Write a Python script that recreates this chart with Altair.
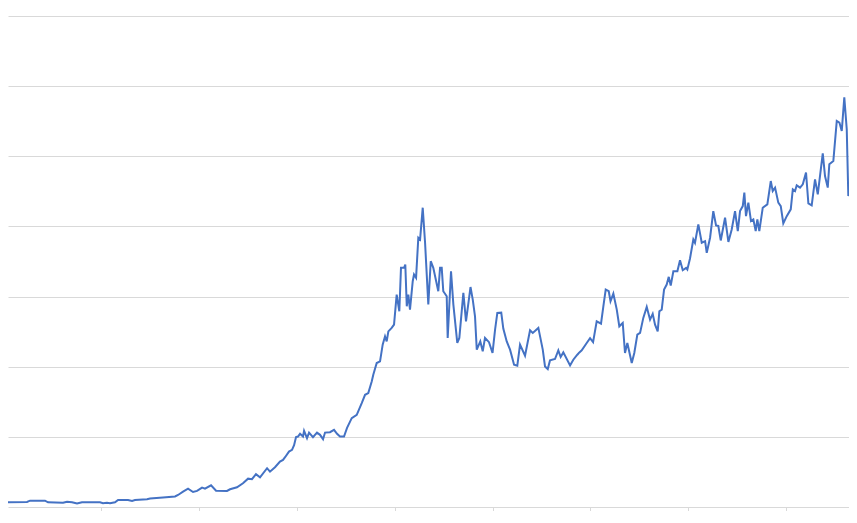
import altair as alt
import pandas as pd

x_vals = [0, 2.45, 2.76, 4.29, 4.6, 6.13, 6.54, 7.05, 7.56, 8.07, 9.91, 10.21, 10.62, 10.93, 11.44, 11.75,
          12.77, 13.18, 13.48, 14.71, 15.02, 16.34, 17.57, 17.88, 18.39, 18.9, 19.41, 19.82, 20.33, 20.63,
          21.25, 21.76, 22.88, 23.19, 23.9, 24.51, 25.03, 25.43, 25.84, 26.25, 26.97, 27.27, 27.78, 28.29,
          28.6, 28.81, 29.21, 29.52, 29.73, 29.93, 30.13, 30.34, 30.64, 30.75, 31.05, 31.26, 31.66, 32.07,
          32.38, 32.69, 32.89, 33.4, 33.81, 34.12, 34.42, 34.83, 35.14, 35.62, 36.13, 36.64, 36.98, 37.31,
          37.66, 37.82, 38.17, 38.51, 38.78, 39.02, 39.19, 39.36, 39.7, 39.94, 40.21, 40.48, 40.65, 40.96,
          41.09, 41.24, 41.4, 41.57, 41.85, 41.98, 42.19, 42.42, 42.6, 42.87, 43.11, 43.44, 43.69, 43.95,
          44.46, 44.64, 44.81, 44.97, 45.32, 45.42, 45.76, 46.0, 46.4, 46.61, 47.02, 47.29, 47.75, 47.98,
          48.21, 48.39, 48.75, 49.0, 49.23, 49.64, 50.0, 50.26, 50.49, 50.89, 51.1, 51.45, 51.79, 52.2,
          52.53, 52.81, 53.32, 53.83, 54.11, 54.68, 55.13, 55.36, 55.64, 55.87, 56.38, 56.72, 56.96, 57.23,
          57.92, 58.25, 58.66, 58.87, 59.11, 59.62, 59.96, 60.27, 60.64, 61.08, 61.32, 61.56, 61.87, 62.05,
          62.34, 62.69, 62.95, 63.3, 63.53, 63.77, 64.22, 64.48, 64.79, 65.07, 65.4, 65.75, 66.09, 66.36,
          66.6, 66.87, 67.04, 67.28, 67.52, 67.79, 68.0, 68.2, 68.47, 68.88, 69.15, 69.43, 69.77, 69.9,
          70.17, 70.51, 70.68, 71.02, 71.37, 71.71, 71.88, 72.22, 72.55, 72.83, 73.06, 73.31, 73.75, 74.09,
          74.43, 74.77, 75.05, 75.28, 75.56, 75.72, 75.89, 76.13, 76.4, 76.64, 76.88, 77.05, 77.25, 77.6,
          78.07, 78.42, 78.62, 78.86, 79.19, 79.44, 79.7, 80.05, 80.46, 80.67, 80.9, 81.07, 81.41, 81.69,
          82.02, 82.26, 82.6, 82.94, 83.22, 83.73, 83.96, 84.24, 84.4, 84.81, 85.16, 85.43, 85.67, 85.93,
          86.18, 86.34, 86.52, 86.79, 86.96, 87.2]

y_vals = [0.67, 0.71, 0.9, 0.9, 0.67, 0.61, 0.76, 0.67, 0.5, 0.67, 0.67, 0.53, 0.61, 0.53, 0.67, 1.0,
          1.0, 0.86, 1.0, 1.1, 1.21, 1.36, 1.5, 1.71, 2.19, 2.61, 2.14, 2.29, 2.76, 2.61,
          3.1, 2.33, 2.29, 2.53, 2.81, 3.39, 4.04, 3.96, 4.67, 4.24, 5.53, 5.04, 5.67, 6.47,
          6.71, 7.1, 7.9, 8.14, 8.81, 9.96, 10.04, 10.43, 10.04, 10.86, 9.81, 10.61, 9.96, 10.61,
          10.29, 9.67, 10.61, 10.67, 11.0, 10.43, 10.04, 10.04, 11.29, 12.67, 13.14, 14.81, 16.0, 16.24,
          17.9, 18.86, 20.53, 20.76, 23.14, 24.33, 23.61, 25.04, 25.53, 26.0, 30.29, 27.9, 34.1, 34.1,
          34.57, 28.61, 30.29, 28.14, 32.19, 33.14, 32.67, 38.39, 38.14, 42.67, 37.67, 28.86, 35.04, 34.1,
          30.76, 34.1, 34.1, 30.76, 30.04, 24.1, 33.61, 28.86, 23.39, 24.1, 30.53, 26.47, 31.36, 29.57,
          27.19, 22.43, 23.61, 22.19, 24.1, 23.5, 21.96, 25.29, 27.67, 27.71, 25.43, 23.61, 22.43, 20.29,
          20.14, 23.14, 21.57, 25.19, 24.81, 25.53, 22.43, 20.04, 19.67, 20.9, 21.1, 22.33, 21.39, 22.04,
          20.19, 21.0, 21.71, 22.04, 22.33, 23.39, 24.07, 23.5, 26.47, 26.14, 28.61, 31.0, 30.76, 29.33,
          30.43, 28.14, 25.76, 26.24, 21.96, 23.39, 20.53, 21.96, 24.57, 24.81, 26.96, 28.53, 26.71, 27.53,
          26.0, 25.04, 27.9, 28.14, 31.0, 31.71, 32.81, 31.57, 33.61, 33.61, 35.19, 33.76, 34.1, 33.86,
          35.43, 38.14, 37.67, 40.29, 37.67, 37.9, 36.24, 38.39, 42.19, 40.14, 40.07, 38.0, 41.24, 37.79,
          39.57, 42.19, 39.33, 42.19, 42.9, 44.81, 41.47, 43.39, 40.76, 41.0, 39.33, 41.0, 39.33, 42.67,
          43.14, 46.47, 45.04, 45.53, 43.39, 42.9, 40.43, 41.47, 42.43, 45.29, 45.04, 45.86, 45.53, 46.0,
          47.67, 43.29, 43.0, 46.71, 44.57, 50.43, 47.19, 45.53, 48.86, 49.33, 55.04, 54.81, 53.61, 58.39,
          53.86, 44.33, 46.47, 44.81, 47.9, 49.57]

df = pd.DataFrame({"x": x_vals, "y": y_vals})

x_ticks = [10, 20, 30, 40, 50, 60, 70, 80]
y_grid = [10, 20, 30, 40, 50, 60, 70]

chart = alt.Chart(df).mark_line(color="#4472c4", strokeWidth=2, clip=True).encode(
    x=alt.X("x:Q", scale=alt.Scale(domain=[0.51, 86.41], nice=False, zero=False),
            axis=alt.Axis(values=x_ticks, labels=False, title=None, grid=False,
                          domainColor="#d9d9d9", tickColor="#d9d9d9", tickSize=6)),
    y=alt.Y("y:Q", scale=alt.Scale(domain=[0, 70], nice=False),
            axis=alt.Axis(values=y_grid, labels=False, title=None, ticks=False, domain=False,
                          grid=True, gridColor="#d9d9d9", gridWidth=1)),
).properties(
    width=841, height=491,
    autosize=alt.AutoSizeParams(type="none"),
    padding={"left": 0, "top": 8, "right": 0, "bottom": 4},
).configure_view(stroke=None)

chart.save("out.html", embed_options={"renderer": "svg", "actions": False})
